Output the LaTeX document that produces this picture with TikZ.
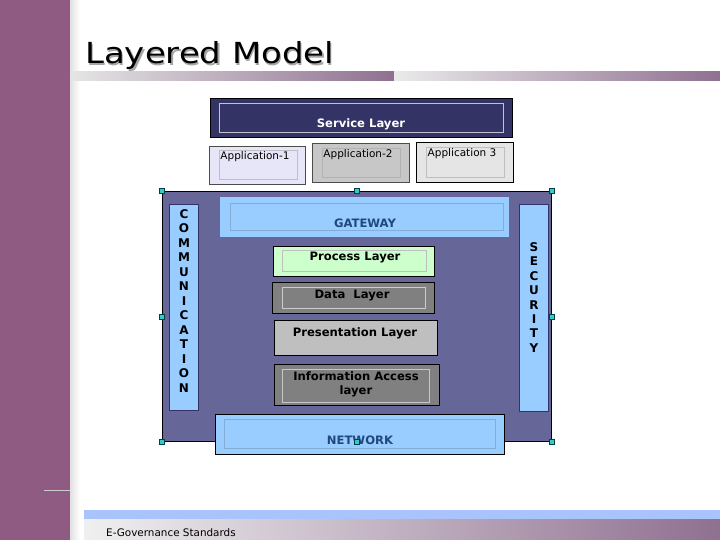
\documentclass[tikz,border=0pt]{standalone}
\usepackage{fontspec}
\setmainfont{DejaVu Sans}
\usetikzlibrary{math}
\definecolor{sidebar}{RGB}{143,91,130}
\definecolor{fade}{RGB}{143,112,144}
\definecolor{navy}{RGB}{51,51,102}
\definecolor{slate}{RGB}{102,102,153}
\definecolor{skyblue}{RGB}{153,204,255}
\definecolor{gateblue}{RGB}{31,73,125}
\definecolor{handlecyan}{RGB}{51,204,204}
\definecolor{mintgreen}{RGB}{204,255,204}
\definecolor{lavender}{RGB}{230,230,248}
\definecolor{footblue}{RGB}{168,196,250}

\begin{document}
\begin{tikzpicture}[x=1pt,y=-1pt,
  blk/.style={draw=black,line width=0.9pt,inner sep=0pt,anchor=north west},
  inset/.style={draw=#1,line width=0.6pt},
  lbl/.style={font=\fontsize{11.6}{13}\selectfont\bfseries,inner sep=0pt},
  app/.style={font=\fontsize{10.5}{12}\selectfont,inner sep=0pt},
  letter/.style={font=\fontsize{12}{13}\selectfont\bfseries,inner sep=0pt},
  handle/.style={draw=teal!50!black,fill=handlecyan,line width=0.5pt,minimum size=5pt,inner sep=0pt}]
\tikzmath{
\cstep=14.5;
\sstep=14.43;
}
\useasboundingbox (0,0) rectangle (720,540);
\fill[white] (0,0) rectangle (720,540);

% slide frame
\fill[sidebar] (0,0) rectangle (70,540);
\shade[left color=black!12,right color=white] (70,0) rectangle (80,540);
\draw[black!20,line width=1pt] (44,490) -- (70,490);
\shade[left color=black!10,right color=fade] (71,72) rectangle (394,81);
\shade[left color=black!8,right color=fade] (394,72) rectangle (720,81);
\fill[footblue] (84,510) rectangle (720,519);
\shade[left color=black!6,right color=fade] (84,519) rectangle (720,540);

\node[font=\fontsize{29}{32}\selectfont,text=black!35,anchor=base west,xscale=1.17,inner sep=0pt] (titleshadow) at (86.2,65.2) {Layered Model};
\node[font=\fontsize{29}{32}\selectfont,anchor=base west,xscale=1.17,inner sep=0pt] (title) at (85,64) {Layered Model};
\node[font=\fontsize{10.4}{12}\selectfont,anchor=base west,inner sep=0pt] (footer) at (106,536) {E-Governance Standards};

% service and applications
\node[blk,fill=navy,minimum width=302pt,minimum height=39pt] (service) at (210,98) {};
\draw[inset=white!70!navy] (219,103) rectangle (503,132);
\node[lbl,text=white] (servicetxt) at (361,124) {Service Layer};

\node[blk,draw=black!70,fill=lavender,minimum width=96pt,minimum height=38pt] (app1) at (209,146) {};
\draw[inset=black!25] (219,150) rectangle (297,179);
\node[app] (app1txt) at (255,157) {Application-1};
\node[blk,draw=black!70,fill=black!22,minimum width=97pt,minimum height=39pt] (app2) at (312,143) {};
\draw[inset=black!30] (322,148) rectangle (400,177);
\node[app] (app2txt) at (358,155) {Application-2};
\node[blk,fill=black!10,minimum width=97pt,minimum height=40pt] (app3) at (416,142) {};
\draw[inset=black!25] (426,147) rectangle (504,177);
\node[app] (app3txt) at (462,154) {Application 3};

% the layered frame
\node[blk,fill=slate,minimum width=389pt,minimum height=250pt] (frame) at (162,191) {};

\node[blk,draw=navy,fill=skyblue,minimum width=29pt,minimum height=206pt] (comm) at (169,204) {};
\foreach \ch [count=\i from 0] in {C,O,M,M,U,N,I,C,A,T,I,O,N}
  \node[letter] (comm\i) at (184,{214+\cstep*\i}) {\ch};
\node[blk,draw=navy,fill=skyblue,minimum width=29pt,minimum height=207pt] (sec) at (519,204) {};
\foreach \ch [count=\i from 0] in {S,E,C,U,R,I,T,Y}
  \node[letter] (sec\i) at (534,{247+\sstep*\i}) {\ch};

\node[blk,draw=none,fill=skyblue,minimum width=289pt,minimum height=40pt] (gateway) at (220,197) {};
\draw[inset=skyblue!85!black] (230,203) rectangle (503,230);
\node[lbl,text=gateblue] (gatewaytxt) at (365,223) {GATEWAY};

\node[blk,fill=mintgreen,minimum width=161pt,minimum height=30pt] (process) at (273,245.5) {};
\draw[inset=black!25] (282,250.5) rectangle (426,271.5);
\node[lbl] (processtxt) at (355,257.5) {Process Layer};

\node[blk,fill=black!50,minimum width=162pt,minimum height=31pt] (data) at (272,282) {};
\draw[inset=black!20] (282,287) rectangle (425,308);
\node[lbl] (datatxt) at (352,295.5) {Data\ \ Layer};

\node[blk,fill=black!25,minimum width=163pt,minimum height=35pt] (present) at (274,320) {};
\node[lbl] (presenttxt) at (355,333) {Presentation Layer};

\node[blk,fill=black!50,minimum width=165pt,minimum height=41pt] (info) at (274,364) {};
\draw[inset=black!22] (282,369) rectangle (429,402);
\node[lbl,align=center] (infotxt) at (356,384.5) {Information Access\\[1.5pt]layer};

\node[blk,fill=skyblue,minimum width=289pt,minimum height=40pt] (network) at (215,414) {};
\draw[inset=skyblue!85!black] (224,419) rectangle (495,448);
\node[lbl,text=gateblue] (networktxt) at (360,440) {NETWORK};

% selection handles
\foreach \a in {north west,north,north east,west,east,south west,south,south east}
  \node[handle] at (frame.\a) {};
\end{tikzpicture}
\end{document}
